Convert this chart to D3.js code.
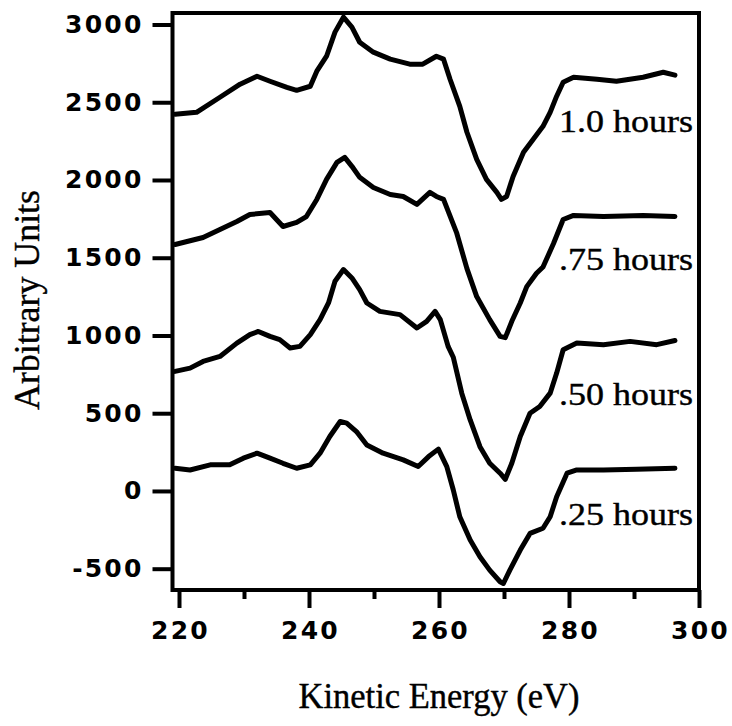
<!DOCTYPE html>
<html>
<head>
<meta charset="utf-8">
<script src="https://cdn.jsdelivr.net/npm/d3@7"></script>
<style>
  body { margin: 0; background: #fff; }
  svg { display: block; }
</style>
</head>
<body>
<svg width="732" height="726"></svg>
<script>
// kinetic energy (eV) and signal (arbitrary units) per run
var ev100 = [219.4, 222.7, 226.3, 229.4, 232.0, 234.0, 236.6, 238.1, 240.2, 241.2, 242.7, 244.0, 245.3, 246.6, 247.8, 249.9, 252.5, 255.5, 257.5, 259.6, 260.7, 261.7, 263.2, 264.3, 265.8, 267.3, 268.9, 269.6, 270.4, 271.4, 273.0, 274.5, 276.0, 277.1, 278.1, 279.1, 280.7, 284.3, 287.3, 291.4, 294.5, 296.3];
var au100 = [2423, 2435, 2532, 2616, 2667, 2635, 2596, 2577, 2603, 2700, 2796, 2951, 3047, 2983, 2886, 2822, 2777, 2745, 2745, 2796, 2777, 2648, 2474, 2307, 2133, 2004, 1920, 1875, 1894, 2023, 2178, 2262, 2345, 2435, 2539, 2629, 2661, 2648, 2635, 2661, 2693, 2674];

var ev75 = [219.4, 223.7, 226.3, 228.9, 230.9, 234.0, 236.0, 238.1, 239.6, 241.2, 242.7, 244.3, 245.5, 246.6, 247.8, 249.9, 252.5, 254.5, 256.6, 258.6, 259.6, 260.7, 262.7, 264.3, 265.8, 267.8, 269.4, 270.2, 271.2, 272.5, 273.5, 275.0, 276.0, 277.6, 279.1, 280.7, 285.3, 291.4, 296.3];
var au75 = [1585, 1630, 1682, 1733, 1778, 1791, 1701, 1727, 1765, 1875, 2004, 2113, 2145, 2088, 2017, 1952, 1907, 1894, 1843, 1920, 1894, 1875, 1662, 1430, 1250, 1102, 994, 986, 1091, 1209, 1314, 1400, 1440, 1590, 1746, 1772, 1765, 1772, 1765];

var ev50 = [219.4, 221.7, 223.7, 226.3, 228.9, 230.9, 232.2, 234.0, 235.5, 237.1, 238.6, 240.2, 241.7, 243.0, 244.0, 245.3, 246.6, 247.8, 248.9, 250.9, 254.0, 256.6, 258.1, 259.4, 260.2, 261.4, 262.2, 263.5, 264.8, 266.3, 267.8, 269.4, 270.2, 271.2, 272.5, 274.0, 275.5, 277.1, 278.1, 279.1, 281.2, 285.3, 289.4, 293.5, 296.3];
var au50 = [769, 790, 833, 865, 951, 1005, 1026, 994, 973, 919, 930, 1005, 1102, 1209, 1349, 1424, 1370, 1295, 1209, 1155, 1134, 1048, 1091, 1155, 1102, 930, 860, 629, 457, 285, 178, 114, 75, 178, 350, 500, 543, 629, 758, 908, 951, 941, 962, 941, 968];

var ev25 = [219.4, 221.7, 224.8, 227.8, 229.9, 232.0, 234.0, 236.0, 238.1, 240.2, 241.7, 243.2, 244.8, 245.8, 247.3, 248.9, 251.4, 254.5, 256.8, 258.4, 259.9, 261.2, 262.2, 263.2, 264.8, 266.3, 267.8, 269.4, 269.9, 270.9, 272.5, 274.0, 276.0, 277.1, 278.1, 279.7, 281.2, 285.3, 290.4, 296.3];
var au25 = [146, 135, 168, 168, 211, 243, 211, 178, 146, 168, 243, 350, 447, 436, 382, 296, 243, 200, 157, 221, 269, 157, 6, -166, -316, -423, -509, -584, -595, -509, -380, -273, -240, -166, -37, 114, 135, 135, 140, 146];

var runLabels = ["1.0 hours", ".75 hours", ".50 hours", ".25 hours"];
var labelLevels = [2311, 1421, 553, -219];

var xTicks = [220, 240, 260, 280, 300];
var xMinor = [230, 250, 270, 290];
var yTicks = [-500, 0, 500, 1000, 1500, 2000, 2500, 3000];

var runs = [[ev100, au100], [ev75, au75], [ev50, au50], [ev25, au25]];

var svg = d3.select("svg");

var x = d3.scaleLinear().domain([219, 300]).range([172.5, 699]);
var y = d3.scaleLinear().domain([-637, 3074]).range([590, 13]);

var tickFont = "'DejaVu Sans', sans-serif";
var serif = "'Liberation Serif', 'Times New Roman', serif";

// axes, ticks stick out of the box
var yAxis = svg.append("g").attr("transform", "translate(" + x(219) + ",0)")
  .call(d3.axisLeft(y).tickValues(yTicks).tickSize(20).tickPadding(9).tickFormat(function(d){ return String(d); }));
var xAxis = svg.append("g").attr("transform", "translate(0," + y(-637) + ")")
  .call(d3.axisBottom(x).tickValues(xTicks).tickSize(18).tickPadding(13).tickFormat(d3.format("d")));
var xAxisMinor = svg.append("g").attr("transform", "translate(0," + y(-637) + ")")
  .call(d3.axisBottom(x).tickValues(xMinor).tickSize(9).tickFormat(""));

[yAxis, xAxis, xAxisMinor].forEach(function(g){
  g.select(".domain").remove();
  g.selectAll(".tick line").attr("stroke", "#000").attr("stroke-width", 4);
  g.selectAll(".tick text")
    .attr("fill", "#000")
    .style("font-family", tickFont)
    .style("font-weight", "bold")
    .style("font-size", "25px")
    .style("letter-spacing", "2.2px");
});
xAxis.selectAll(".tick text").attr("dx", "1px");

// frame
svg.append("rect")
  .attr("x", x(219)).attr("y", y(3074))
  .attr("width", x(300) - x(219)).attr("height", y(-637) - y(3074))
  .attr("fill", "none").attr("stroke", "#000").attr("stroke-width", 4);

// traces
var line = d3.line()
  .x(function(d){ return x(d[0]); })
  .y(function(d){ return y(d[1]); });

runs.forEach(function(r){
  var pts = r[0].map(function(e, i){ return [e, r[1][i]]; });
  svg.append("path")
    .datum(pts)
    .attr("d", line)
    .attr("fill", "none")
    .attr("stroke", "#000")
    .attr("stroke-width", 5)
    .attr("stroke-linejoin", "round")
    .attr("stroke-linecap", "round");
});

// run labels
svg.selectAll("text.run").data(runLabels).enter()
  .append("text")
  .attr("class", "run")
  .attr("x", x(300) - 6)
  .attr("y", function(d, i){ return y(labelLevels[i]); })
  .attr("text-anchor", "end")
  .attr("textLength", 134)
  .attr("lengthAdjust", "spacingAndGlyphs")
  .style("font-family", serif)
  .style("font-size", "32px")
  .style("stroke", "#000")
  .style("stroke-width", 0.4)
  .text(function(d){ return d; });

// axis titles
svg.append("text")
  .attr("x", (x(220) + x(300)) / 2)
  .attr("y", 708)
  .attr("text-anchor", "middle")
  .attr("textLength", 281)
  .attr("lengthAdjust", "spacingAndGlyphs")
  .style("font-family", serif)
  .style("font-size", "35px")
  .style("stroke", "#000")
  .style("stroke-width", 0.4)
  .text("Kinetic Energy (eV)");

svg.append("text")
  .attr("transform", "translate(39,300) rotate(-90)")
  .attr("text-anchor", "middle")
  .attr("textLength", 220)
  .attr("lengthAdjust", "spacingAndGlyphs")
  .style("font-family", serif)
  .style("font-size", "35px")
  .style("stroke", "#000")
  .style("stroke-width", 0.4)
  .text("Arbitrary Units");
</script>
</body>
</html>
